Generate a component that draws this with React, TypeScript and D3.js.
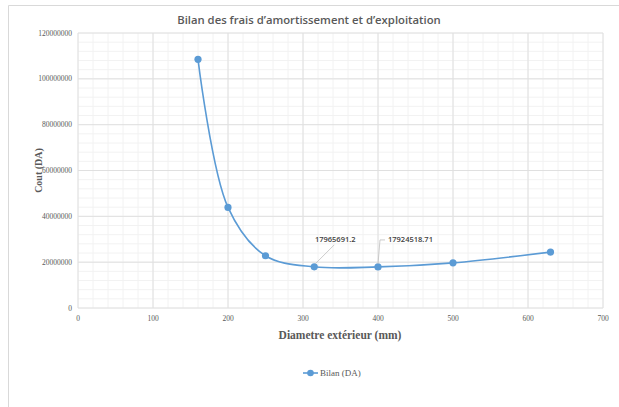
import React from "react";
import * as d3 from "d3";

// Outer pipe diameters (mm) and the resulting total cost (DA)
const diameters = [160, 200, 250, 315, 400, 500, 630];
const bilan = [108500000, 43900000, 22800000, 17965691.2, 17924518.71, 19700000, 24400000];
// Points that carry a value label
const labelledIndices = [3, 4];

const xTicks = [0, 100, 200, 300, 400, 500, 600, 700];
const yTicks = [0, 20000000, 40000000, 60000000, 80000000, 100000000, 120000000];
const xMinor = d3.range(0, 701, 20);
const yMinor = d3.range(0, 120000001, 4000000);

const title = "Bilan des frais d\u2019amortissement et d\u2019exploitation";
const xTitle = "Diametre extérieur (mm)";
const yTitle = "Cout (DA)";
const seriesName = "Bilan (DA)";

const W = 619;
const H = 407;
const plot = { left: 78, right: 603, top: 33, bottom: 308 };
const blue = "#5b9bd5";
const serif = "'Liberation Serif', 'DejaVu Serif', serif";
const sans = "'Open Sans', 'Noto Sans', sans-serif";

export default function App() {
  const x = d3.scaleLinear().domain([0, 700]).range([plot.left, plot.right]);
  const y = d3.scaleLinear().domain([0, 120000000]).range([plot.bottom, plot.top]);

  const pts: [number, number][] = diameters.map((d, i) => [x(d), y(bilan[i])]);
  const line = d3.line().curve(d3.curveCatmullRom.alpha(0.5))(pts) || "";

  const labelOffsets: Record<number, { dx: number; dy: number; anchor: string; elbow: boolean }> = {
    3: { dx: 21, dy: -27, anchor: "middle", elbow: false },
    4: { dx: 4, dy: -27, anchor: "start", elbow: true },
  };

  return (
    <svg
      width={W}
      height={H}
      style={{ position: "fixed", left: 0, top: 0, background: "#fff" }}
    >
      {/* chart frame */}
      <path d={`M8.5,${H} V5.5 H${W}`} fill="none" stroke="#d9d9d9" strokeWidth={1} />

      <text x={309} y={24} textAnchor="middle" fontFamily={sans} fontSize={11.3} fontWeight={600} fill="#595959">
        {title}
      </text>

      {/* minor grid */}
      {xMinor.map((v) => (
        <line key={"xm" + v} x1={x(v)} x2={x(v)} y1={plot.top} y2={plot.bottom} stroke="#f2f2f2" strokeWidth={1} />
      ))}
      {yMinor.map((v) => (
        <line key={"ym" + v} x1={plot.left} x2={plot.right} y1={y(v)} y2={y(v)} stroke="#f2f2f2" strokeWidth={1} />
      ))}
      {/* major grid */}
      {xTicks.map((v) => (
        <line key={"xM" + v} x1={x(v)} x2={x(v)} y1={plot.top} y2={plot.bottom} stroke="#e0e0e0" strokeWidth={1} />
      ))}
      {yTicks.map((v) => (
        <line key={"yM" + v} x1={plot.left} x2={plot.right} y1={y(v)} y2={y(v)} stroke="#e0e0e0" strokeWidth={1} />
      ))}

      {/* tick labels */}
      {yTicks.map((v) => (
        <text key={"yl" + v} x={plot.left - 6} y={y(v) + 2.5} textAnchor="end" fontFamily={serif} fontSize={7.5} fill="#595959">
          {v}
        </text>
      ))}
      {xTicks.map((v) => (
        <text key={"xl" + v} x={x(v)} y={plot.bottom + 13} textAnchor="middle" fontFamily={serif} fontSize={7.5} fill="#595959">
          {v}
        </text>
      ))}

      {/* axis titles */}
      <text x={340} y={339} textAnchor="middle" fontFamily={serif} fontSize={11.5} fontWeight="bold" fill="#595959">
        {xTitle}
      </text>
      <text
        transform={`translate(42,${(plot.top + plot.bottom) / 2}) rotate(-90)`}
        textAnchor="middle"
        fontFamily={serif}
        fontSize={10}
        fontWeight="bold"
        fill="#595959"
      >
        {yTitle}
      </text>

      {/* series */}
      <path d={line} fill="none" stroke={blue} strokeWidth={1.6} />
      {pts.map(([px, py], i) => (
        <circle key={"p" + i} cx={px} cy={py} r={3.6} fill={blue} />
      ))}

      {/* value labels with leader lines */}
      {labelledIndices.map((i) => {
        const [px, py] = pts[i];
        const o = labelOffsets[i];
        const lx = px + o.dx;
        const ly = py + o.dy;
        return (
          <g key={"lab" + i}>
            {o.elbow ? (
              <path d={`M${px},${py - 3} L${px + 2},${ly} H${px + 7}`} fill="none" stroke="#bfbfbf" strokeWidth={0.8} />
            ) : (
              <line x1={px + 1} y1={py - 3} x2={lx - 1} y2={ly + 5} stroke="#bfbfbf" strokeWidth={0.8} />
            )}
            <text
              x={o.elbow ? px + 10 : lx}
              y={ly + 2.5}
              textAnchor={o.elbow ? "start" : o.anchor}
              fontFamily={sans}
              fontSize={7.5}
              fontWeight={600}
              fill="#404040"
            >
              {bilan[i]}
            </text>
          </g>
        );
      })}

      {/* legend */}
      <line x1={303} x2={318} y1={373} y2={373} stroke={blue} strokeWidth={1.6} />
      <circle cx={310.5} cy={373} r={3.3} fill={blue} />
      <text x={320} y={376} fontFamily={serif} fontSize={9} fill="#595959">
        {seriesName}
      </text>
    </svg>
  );
}
